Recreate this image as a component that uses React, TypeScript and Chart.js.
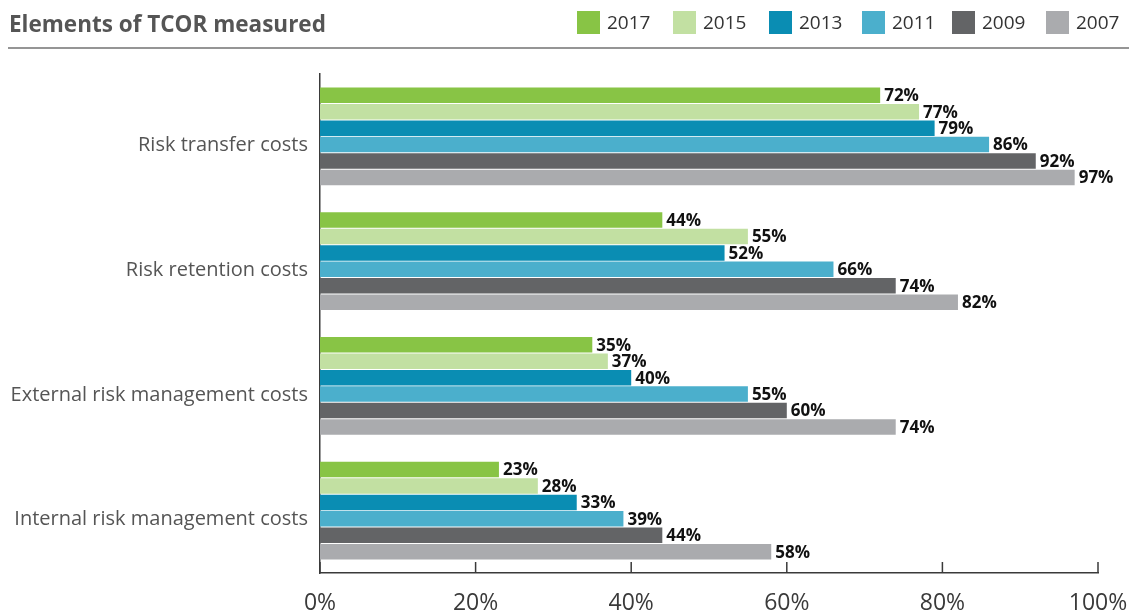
import React, { useEffect, useRef } from "react";
import { Chart, registerables } from "chart.js";

Chart.register(...registerables);

const categories = [
  "Risk transfer costs",
  "Risk retention costs",
  "External risk management costs",
  "Internal risk management costs",
];
const seriesNames = ["2017", "2015", "2013", "2011", "2009", "2007"];
const seriesColors = ["#88c445", "#c2e0a2", "#0a8db3", "#4bafcc", "#636466", "#aaabae"];
const v2017 = [72, 44, 35, 23];
const v2015 = [77, 55, 37, 28];
const v2013 = [79, 52, 40, 33];
const v2011 = [86, 66, 55, 39];
const v2009 = [92, 74, 60, 44];
const v2007 = [97, 82, 74, 58];
const seriesValues = [v2017, v2015, v2013, v2011, v2009, v2007];
const xTicks = [0, 20, 40, 60, 80, 100];
const titleText = "Elements of TCOR measured";

const FONT = "'Open Sans', 'Noto Sans', sans-serif";
const AXIS = "#3a3a3a";
const LEGEND_X = [577, 673, 769, 862, 952, 1046];

const decorPlugin = {
  id: "decor",
  afterDatasetsDraw(chart: any) {
    const ctx = chart.ctx;
    ctx.save();
    ctx.font = `bold 17px ${FONT}`;
    ctx.fillStyle = "#111";
    ctx.textBaseline = "middle";
    ctx.textAlign = "left";
    chart.data.datasets.forEach((ds: any, i: number) => {
      const meta = chart.getDatasetMeta(i);
      meta.data.forEach((el: any, j: number) => {
        ctx.fillText(`${ds.data[j]}%`, el.x + 4, el.y + 1);
      });
    });
    ctx.restore();
  },
  afterDraw(chart: any) {
    const ctx = chart.ctx;
    const area = chart.chartArea;
    const xs = chart.scales.x;
    ctx.save();
    ctx.strokeStyle = AXIS;
    ctx.lineWidth = 1.5;
    xTicks.forEach((t) => {
      const px = xs.getPixelForValue(t);
      ctx.beginPath();
      ctx.moveTo(px, area.bottom - 11);
      ctx.lineTo(px, area.bottom);
      ctx.stroke();
    });
    ctx.restore();

    ctx.save();
    ctx.font = `bold 22.5px ${FONT}`;
    ctx.fillStyle = "#555555";
    ctx.textBaseline = "alphabetic";
    ctx.textAlign = "left";
    ctx.fillText(titleText, 9, 32);

    ctx.fillStyle = "#959595";
    ctx.fillRect(8, 47, 1121, 2);

    ctx.font = `19px ${FONT}`;
    seriesNames.forEach((name, i) => {
      const x = LEGEND_X[i];
      ctx.fillStyle = seriesColors[i];
      ctx.fillRect(x, 11, 23, 23);
      ctx.fillStyle = "#333";
      ctx.fillText(name, x + 30, 29);
    });
    ctx.restore();
  },
};

export default function App() {
  const ref = useRef<HTMLCanvasElement | null>(null);
  useEffect(() => {
    if (!ref.current) return;
    const chart = new Chart(ref.current, {
      type: "bar",
      data: {
        labels: categories,
        datasets: seriesNames.map((name, i) => ({
          label: name,
          data: seriesValues[i],
          backgroundColor: seriesColors[i],
          borderWidth: 0,
          barPercentage: 0.94,
          categoryPercentage: 0.79,
        })),
      },
      options: {
        indexAxis: "y",
        responsive: false,
        animation: false,
        layout: { padding: { top: 74, right: 31, left: 0, bottom: 0 } },
        plugins: {
          legend: { display: false },
          title: { display: false },
          tooltip: { enabled: false },
        },
        scales: {
          x: {
            type: "linear",
            min: 0,
            max: 100,
            afterBuildTicks: (s: any) => {
              s.ticks = xTicks.map((v) => ({ value: v }));
            },
            ticks: {
              callback: (v: any) => `${v}%`,
              font: { family: FONT, size: 23 },
              color: "#3a3a3a",
              padding: 17,
            },
            grid: { display: false, drawTicks: false },
            border: { display: true, color: AXIS, width: 1.5 },
            afterFit: (s: any) => {
              s.height = 38;
              s.paddingLeft = 0;
              s.paddingRight = 0;
            },
          },
          y: {
            type: "category",
            ticks: {
              font: { family: FONT, size: 20 },
              color: "#555",
              padding: 12,
              labelOffset: 9,
            },
            grid: { display: false, drawTicks: false },
            border: { display: true, color: AXIS, width: 1.5 },
            afterFit: (s: any) => {
              s.width = 320;
              s.paddingTop = 0;
              s.paddingBottom = 0;
            },
          },
        },
      },
      plugins: [decorPlugin],
    });
    return () => chart.destroy();
  }, []);
  return (
    <canvas
      ref={ref}
      width={1129}
      height={611}
      style={{ position: "fixed", left: 0, top: 0, display: "block" }}
    />
  );
}
